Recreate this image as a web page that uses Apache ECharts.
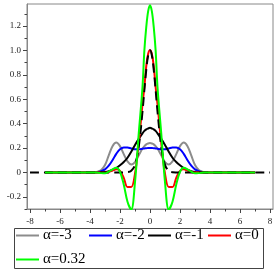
<!DOCTYPE html>
<html><head><meta charset="utf-8">
<script src="https://cdn.jsdelivr.net/npm/echarts@6/dist/echarts.min.js"></script>
<style>html,body{margin:0;padding:0;background:#fff}#c{width:277px;height:277px}</style>
</head><body><div id="c"></div>
<script>
// sample positions (x) for the coloured curves
const xs = [-7,-4,-3.75,-3.5,-3.25,-3,-2.75,-2.5,-2.25,-2,-1.75,-1.5,-1.25,-1,-0.75,-0.5,-0.375,-0.25,-0.125,0,0.125,0.25,0.375,0.5,0.75,1,1.25,1.5,1.75,2,2.25,2.5,2.75,3,3.25,3.5,3.75,4,7];
const alphaM3 = [0,0,0,0.005,0.02,0.06,0.14,0.215,0.245,0.215,0.15,0.09,0.065,0.085,0.14,0.195,0.215,0.23,0.237,0.24,0.237,0.23,0.215,0.195,0.14,0.085,0.065,0.09,0.15,0.215,0.245,0.215,0.14,0.06,0.02,0.005,0,0,0];
const alphaM2 = [0,0,0,0.003,0.01,0.025,0.055,0.1,0.152,0.19,0.205,0.204,0.196,0.19,0.19,0.194,0.196,0.198,0.2,0.2,0.2,0.198,0.196,0.194,0.19,0.19,0.196,0.204,0.205,0.19,0.152,0.1,0.055,0.025,0.01,0.003,0,0,0];
const alphaM1 = [0,0,0,0,0.001,0.004,0.01,0.02,0.035,0.058,0.085,0.12,0.17,0.225,0.275,0.32,0.34,0.353,0.36,0.365,0.36,0.353,0.34,0.32,0.275,0.225,0.17,0.12,0.085,0.058,0.035,0.02,0.01,0.004,0.001,0,0,0,0];
const alpha0 = [0,0,0,0,0,0,0.004,0.015,0.025,0.012,-0.045,-0.12,-0.12,-0.01,0.24,0.56,0.7,0.87,0.97,1.0,0.97,0.87,0.7,0.56,0.24,-0.01,-0.12,-0.12,-0.045,0.012,0.025,0.015,0.004,0,0,0,0,0,0];
const alpha032 = [0,0,0,-0.002,-0.006,-0.008,0.006,0.025,0.038,0.005,-0.1,-0.24,-0.305,-0.08,0.32,0.7,1.0,1.19,1.32,1.37,1.32,1.19,1.0,0.7,0.32,-0.08,-0.305,-0.24,-0.1,0.005,0.038,0.025,0.006,-0.008,-0.006,-0.002,0,0,0];
// reference (dashed) curve
const xsDash = [-8,-2,-1.5,-1.25,-1,-0.75,-0.5,-0.375,-0.25,-0.125,0,0.125,0.25,0.375,0.5,0.75,1,1.25,1.5,2,8];
const dashVals = [0,0,0.002,0.013,0.062,0.21,0.5,0.677,0.84,0.958,1,0.958,0.84,0.677,0.5,0.21,0.062,0.013,0.002,0,0];
// tick labels
const xMajor = [-8,-6,-4,-2,0,2,4,6,8];
const xMinor = [-7,-5,-3,-1,1,3,5,7];
const yMajor = [-0.2,0,0.2,0.4,0.6,0.8,1.0,1.2];
const yMinor = [-0.3,-0.1,0.1,0.3,0.5,0.7,0.9,1.1,1.3];
const names = ['α=-3','α=-2','α=-1','α=0','α=0.32'];
const colors = ['#8c8c8c','#0000ff','#000000','#ff0000','#00ff00'];

const pair = (x, y) => x.map((v, i) => [v, y[i]]);
const serif = 'Liberation Serif, Times New Roman, serif';
const chart = echarts.init(document.getElementById('c'), null, {renderer: 'canvas'});
const XMIN = -8.2, XMAX = 8.2, YMIN = -0.3, YMAX = 1.38;
const axisCol = '#888';
function fmtY(v){ if (Math.abs(v) < 1e-9) return '0'; return v.toFixed(1); }

const lineSeries = [alphaM3, alphaM2, alphaM1, alpha0].map((d, i) => ({
  name: names[i], type: 'line', data: pair(xs, d), showSymbol: false, symbol: 'none',
  smooth: 0.35, lineStyle: {color: colors[i], width: 2}, itemStyle: {color: colors[i]}, z: 2 + i
}));
lineSeries.push({
  name: 'ref', type: 'line', data: pair(xsDash, dashVals), showSymbol: false, symbol: 'none',
  smooth: 0.35, lineStyle: {color: '#000', width: 2, type: [9, 5]}, z: 7
});
lineSeries.push({
  name: names[4], type: 'line', data: pair(xs, alpha032), showSymbol: false, symbol: 'none',
  smooth: 0.35, lineStyle: {color: colors[4], width: 2}, itemStyle: {color: colors[4]}, z: 8
});

const legendPos = [[16, 228], [89, 228], [148, 228], [208, 228], [16, 252]];
const legends = names.map((n, i) => ({
  data: [n], left: legendPos[i][0], top: legendPos[i][1], padding: 0, itemGap: 0,
  itemWidth: 23, itemHeight: 2, icon: 'rect', selectedMode: false,
  textStyle: {fontFamily: serif, fontSize: 15, color: '#000', padding: [0, 0, 0, -1]}
}));

chart.setOption({
  animation: false,
  backgroundColor: '#fff',
  grid: {left: 27, right: 4, top: 4, bottom: 68, show: true, borderColor: axisCol, borderWidth: 1, backgroundColor: 'transparent'},
  legend: legends,
  xAxis: [
    {type: 'value', min: XMIN, max: XMAX, position: 'bottom',
     axisLine: {onZero: false, lineStyle: {color: axisCol, width: 1}},
     axisTick: {customValues: xMajor, length: 4, lineStyle: {color: '#444'}},
     axisLabel: {customValues: xMajor, fontFamily: serif, fontSize: 9, color: '#222', margin: 8},
     splitLine: {show: false}},
    {type: 'value', min: XMIN, max: XMAX, position: 'bottom',
     axisLine: {show: false, onZero: false}, axisLabel: {show: false},
     axisTick: {customValues: xMinor, length: 2.5, lineStyle: {color: '#444'}},
     splitLine: {show: false}}
  ],
  yAxis: [
    {type: 'value', min: YMIN, max: YMAX, position: 'left',
     axisLine: {show: true, onZero: false, lineStyle: {color: axisCol, width: 1}},
     axisTick: {show: true, customValues: yMajor, length: 4, lineStyle: {color: '#444'}},
     axisLabel: {customValues: yMajor, fontFamily: serif, fontSize: 9, color: '#222', margin: 6, formatter: fmtY},
     splitLine: {show: false}},
    {type: 'value', min: YMIN, max: YMAX, position: 'left',
     axisLine: {show: false, onZero: false}, axisLabel: {show: false},
     axisTick: {show: true, customValues: yMinor, length: 2.5, lineStyle: {color: '#444'}},
     splitLine: {show: false}}
  ],
  graphic: [{type: 'rect', shape: {x: 14.5, y: 228.5, width: 249, height: 40},
             style: {fill: 'none', stroke: '#444', lineWidth: 1}, silent: true}],
  series: lineSeries
});
</script></body></html>
